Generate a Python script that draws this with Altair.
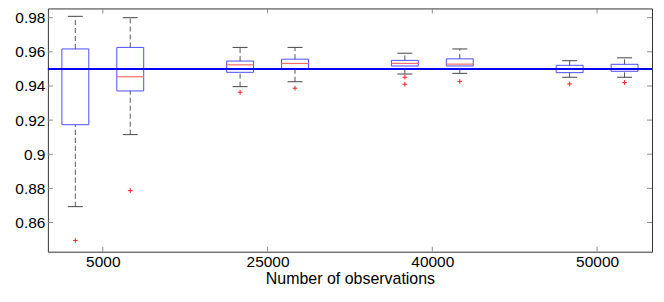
import altair as alt
import pandas as pd

# ---- data ----
groups = ["5000", "25000", "40000", "50000"]
q1 = [0.9173, 0.9371, 0.9480, 0.9499, 0.9517, 0.9517, 0.9478, 0.9486]
med = [0.9500, 0.9454, 0.9524, 0.9532, 0.9532, 0.9528, 0.9497, 0.9502]
q3 = [0.9617, 0.9626, 0.9546, 0.9557, 0.9550, 0.9559, 0.9521, 0.9527]
wlo = [0.8693, 0.9115, 0.9396, 0.9425, 0.9470, 0.9474, 0.9451, 0.9451]
whi = [0.9808, 0.9800, 0.9626, 0.9626, 0.9592, 0.9617, 0.9548, 0.9565]
outliers = [[0.8495], [0.8787], [0.9363], [0.9387], [0.9451, 0.9410],
            [0.9427], [0.9412], [0.9420]]
reference = 0.95
y_ticks = [0.86, 0.88, 0.90, 0.92, 0.94, 0.96, 0.98]

# ---- layout helpers ----
W, H = 606, 244
BOX_HALF = 0.245
CAP_HALF = 0.136
FONT = "Liberation Sans"

pos = [3 * (i // 2) + (i % 2) + 1 for i in range(len(q1))]
x_ticks = [3 * g + 1.5 for g in range(len(groups))]

boxes = pd.DataFrame({
    "pos": pos, "q1": q1, "med": med, "q3": q3, "wlo": wlo, "whi": whi,
})
boxes["xl"] = boxes["pos"] - BOX_HALF
boxes["xr"] = boxes["pos"] + BOX_HALF
boxes["cl"] = boxes["pos"] - CAP_HALF
boxes["cr"] = boxes["pos"] + CAP_HALF

caps = pd.concat([
    boxes[["cl", "cr"]].assign(v=boxes["whi"]),
    boxes[["cl", "cr"]].assign(v=boxes["wlo"]),
])

out_df = pd.DataFrame([
    {"pos": p, "v": v} for p, vals in zip(pos, outliers) for v in vals
])
xt_df = pd.DataFrame({"v": x_ticks})
yt_df = pd.DataFrame({"v": y_ticks})
ref_df = pd.DataFrame({"v": [reference]})

xscale = alt.Scale(domain=[0.5, 11.5], nice=False, zero=False)
yscale = alt.Scale(domain=[0.8429, 0.98543], nice=False, zero=False)

label_expr = " : ".join(
    f"datum.value == {v} ? '{g}'" for v, g in zip(x_ticks, groups)
) + " : ''"

XAX = alt.Axis(values=x_ticks, labelExpr=label_expr, title="Number of observations")
YAX = alt.Axis(values=y_ticks, format=".2~f", title=None)


def X(f):
    return alt.X(f, scale=xscale, axis=XAX, title="Number of observations")


def Y(f):
    return alt.Y(f, scale=yscale, axis=YAX, title=None)


base = alt.Chart(boxes)

box_layer = base.mark_rect(fillOpacity=0, stroke="#4d4dff", strokeWidth=1).encode(
    x=X("xl:Q"), x2="xr:Q", y=Y("q1:Q"), y2="q3:Q",
)
whisk_up = base.mark_rule(color="#555555", strokeDash=[5, 3], strokeWidth=1).encode(
    x=X("pos:Q"), y=Y("q3:Q"), y2="whi:Q",
)
whisk_lo = base.mark_rule(color="#555555", strokeDash=[5, 3], strokeWidth=1).encode(
    x=X("pos:Q"), y=Y("wlo:Q"), y2="q1:Q",
)
cap_layer = alt.Chart(caps).mark_rule(color="#444444", strokeWidth=1).encode(
    x=X("cl:Q"), x2="cr:Q", y=Y("v:Q"),
)
med_layer = base.mark_rule(color="#ff6b6b", strokeWidth=1.2).encode(
    x=X("xl:Q"), x2="xr:Q", y=Y("med:Q"),
)
ref_layer = alt.Chart(ref_df).mark_rule(color="#0000ff", strokeWidth=2).encode(
    y=Y("v:Q"),
)
out_layer = alt.Chart(out_df).mark_point(
    shape="M-1,0L1,0M0,-1L0,1", filled=False, stroke="#ff2020",
    strokeWidth=1, size=22, opacity=1,
).encode(
    x=X("pos:Q"), y=Y("v:Q"),
)

TICK = 5
TICK_COLOR = "#8a8a8a"
yt_left = alt.Chart(yt_df).mark_rule(color=TICK_COLOR).encode(
    y=Y("v:Q"), x=alt.value(0), x2=alt.value(TICK))
yt_right = alt.Chart(yt_df).mark_rule(color=TICK_COLOR).encode(
    y=Y("v:Q"), x=alt.value(W - TICK), x2=alt.value(W))
xt_bot = alt.Chart(xt_df).mark_rule(color=TICK_COLOR).encode(
    x=X("v:Q"), y=alt.value(H - TICK), y2=alt.value(H))
xt_top = alt.Chart(xt_df).mark_rule(color=TICK_COLOR).encode(
    x=X("v:Q"), y=alt.value(0), y2=alt.value(TICK))

chart = alt.layer(
    box_layer, whisk_up, whisk_lo, cap_layer, med_layer, ref_layer, out_layer,
    yt_left, yt_right, xt_bot, xt_top,
).properties(
    width=W, height=H,
    autosize=alt.AutoSizeParams(type="none"),
    padding={"left": 40, "top": 0, "right": 4, "bottom": 42},
    background="white",
).configure_view(
    stroke="#333333", strokeWidth=1,
).configure_axis(
    domain=False, ticks=False, tickSize=0, grid=False,
    labelFont=FONT, labelFontSize=15.5, labelColor="#000000",
    titleFont=FONT, titleFontSize=16, titleColor="#000000", titleFontWeight="normal",
    labelPadding=3, titlePadding=0,
)

chart.save("out.html", embed_options={"renderer": "svg", "actions": False})
